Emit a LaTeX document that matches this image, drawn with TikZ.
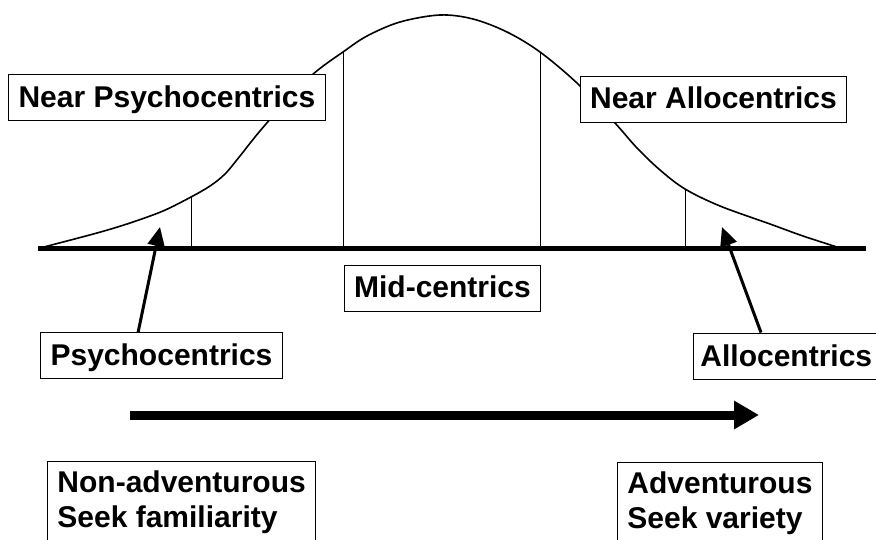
\documentclass[tikz,border=0pt]{standalone}
\usepackage{fontspec}
\setmainfont{Liberation Sans}
\usetikzlibrary{arrows.meta}
\tikzset{
  lbl/.style={draw, fill=white, line width=0.9pt, font=\fontsize{30}{35}\selectfont\bfseries},
  box/.style={lbl, text height=33pt, text depth=13pt, inner ysep=0pt, inner xsep=10pt},
  tallbox/.style={lbl, align=left, inner xsep=10pt, inner ysep=0pt, minimum height=82pt, anchor=north west},
  curve/.style={line width=1.6pt},
  divider/.style={line width=0.9pt},
  axis/.style={line width=5pt},
  pointer/.style={line width=3pt, -{Triangle[length=19pt,width=17pt]}},
  bigarrow/.style={line width=9pt, -{Triangle[length=25pt,width=27pt]}}
}
\begin{document}
\begin{tikzpicture}[x=1pt,y=-1pt]
\useasboundingbox (0,0) rectangle (876,540);
\fill[white] (0,0) rectangle (876,540);
% bell curve
\draw[curve] plot[smooth, tension=0.55] coordinates {
 (40,248) (97,233) (130,223) (163,211) (191,197) (210,186) (225,174)
 (240,156) (255,137) (272,117) (295,91) (318,70) (343,52) (367,36)
 (400,22) (440,15) (473,19) (507,32) (540,52) (578,84) (615,123)
 (637,148) (660,170) (685,189) (720,206) (770,224) (803,236) (840,248)};
% dividers
\draw[divider] (191,197) -- (191,248);
\draw[divider] (343,52) -- (343,248);
\draw[divider] (540,52) -- (540,248);
\draw[divider] (685,189) -- (685,248);
% axis
\coordinate (axL) at (38,249);
\coordinate (axR) at (866,249);
\draw[axis] (axL) -- (axR);
% labels
\node[box] (nearpsy) at (167,97.5) {Near Psychocentrics};
\node[box] (nearallo) at (713.5,99) {Near Allocentrics};
\node[box] (mid) at (442.5,288) {Mid-centrics};
\node[box] (psy) at (161.5,355.5) {Psychocentrics};
\node[box, anchor=west, inner xsep=7pt] (allo) at (693,356) {Allocentrics};
\node[tallbox] (nonadv) at (47,461) {Non-adventurous\\Seek familiarity};
\node[tallbox] (adv) at (617,462) {Adventurous\\Seek variety};
% pointers
\coordinate (psytip) at (160,227);
\coordinate (allotip) at (722,227);
\draw[pointer] ([xshift=98pt]psy.north west) -- (psytip);
\draw[pointer] ([xshift=68pt]allo.north west) -- (allotip);
% direction arrow
\coordinate (dirL) at (130,415);
\coordinate (dirR) at (759,415);
\draw[bigarrow] (dirL) -- (dirR);
\end{tikzpicture}
\end{document}
